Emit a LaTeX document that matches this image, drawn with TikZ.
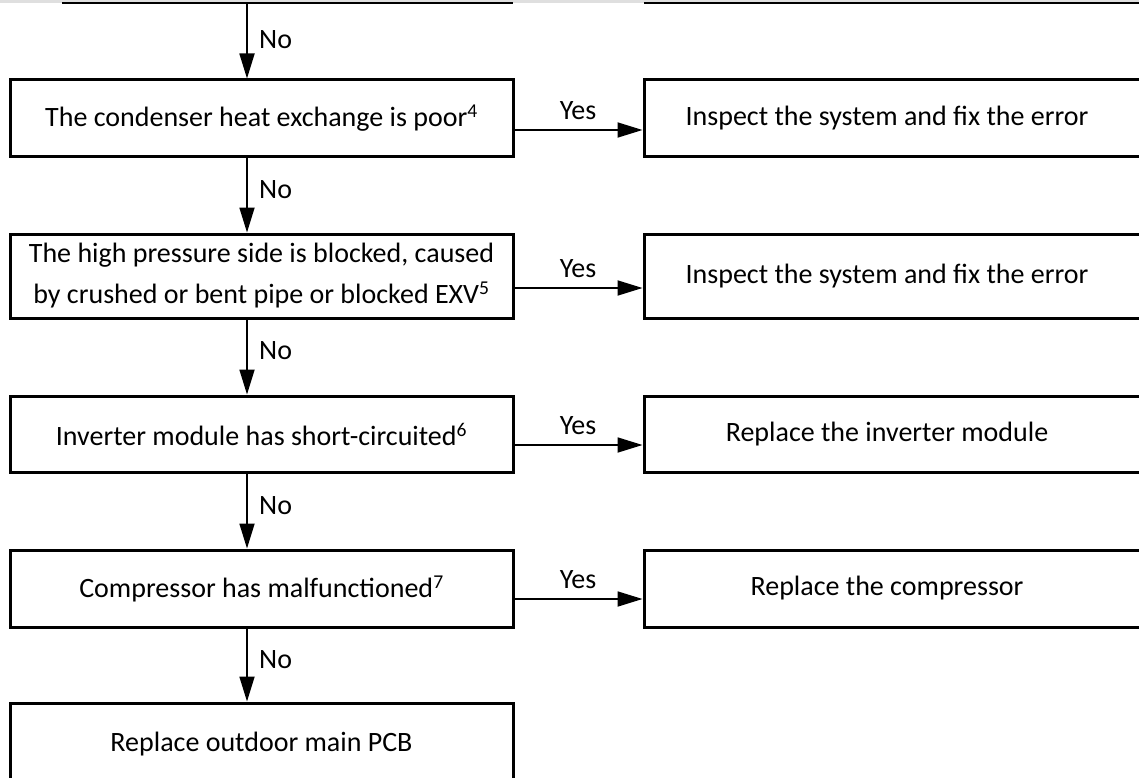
\documentclass[tikz,border=0pt]{standalone}
\usepackage{fontspec}
\setmainfont{Carlito}
\usetikzlibrary{arrows.meta}
\tikzset{
  box/.style={draw, line width=3pt, inner sep=0pt, minimum width=503pt, align=center,
    font=\fontsize{28}{41}\selectfont},
  arr/.style={line width=1.8pt, -{Triangle[length=25pt,width=15pt]}},
  lbl/.style={inner sep=0pt, font=\fontsize{28}{33}\selectfont},
}
\newcommand{\myLeftShift}{\hspace*{-17pt}}
\begin{document}
\begin{tikzpicture}[x=1pt,y=-1pt]
\useasboundingbox (0,0) rectangle (1139,778);
\clip (0,0) rectangle (1139,778);
% top strip
\fill[gray!25] (0,0) rectangle (1139,3.5);
\coordinate (tl1) at (62,3);
\coordinate (tl2) at (513,3);
\coordinate (tr1) at (644,3);
\coordinate (tr2) at (1139,3);
\draw[line width=1.6pt] (tl1) -- (tl2);
\draw[line width=1.6pt] (tr1) -- (tr2);
\coordinate (top) at (247,3);
\coordinate (ax) at (247,0);

% left boxes
\node[box, minimum height=77pt] (b1) at (261.5,118.5) {The condenser heat exchange is poor\textsuperscript{4}};
\node[box, minimum height=84pt] (b2) at (261.5,276) {The high pressure side is blocked, caused\\by crushed or bent pipe or blocked EXV\textsuperscript{5}};
\node[box, minimum height=76pt] (b3) at (261.5,434) {Inverter module has short-circuited\textsuperscript{6}};
\node[box, minimum height=77pt] (b4) at (261.5,588.5) {Compressor has malfunctioned\textsuperscript{7}};
\node[box, minimum height=82pt] (b5) at (261.5,744) {Replace outdoor main PCB};

% right boxes
\node[box, minimum height=77pt] (r1) at (895.5,118.5) {\myLeftShift Inspect the system and fix the error};
\node[box, minimum height=84pt] (r2) at (895.5,276) {\myLeftShift Inspect the system and fix the error};
\node[box, minimum height=76pt] (r3) at (895.5,434) {\myLeftShift Replace the inverter module};
\node[box, minimum height=77pt] (r4) at (895.5,588.5) {\myLeftShift Replace the compressor};

% No arrows
\draw[arr] (top) -- (b1.north -| ax);
\draw[arr] (b1.south -| ax) -- (b2.north -| ax);
\draw[arr] (b2.south -| ax) -- (b3.north -| ax);
\draw[arr] (b3.south -| ax) -- (b4.north -| ax);
\draw[arr] (b4.south -| ax) -- (b5.north -| ax);
\node[lbl, anchor=west] (n0) at (259,40) {No};
\node[lbl, anchor=west] (n1) at (259,190) {No};
\node[lbl, anchor=west] (n2) at (259,351) {No};
\node[lbl, anchor=west] (n3) at (259,506) {No};
\node[lbl, anchor=west] (n4) at (259,660) {No};

% Yes arrows
\coordinate (y1) at (0,130);
\coordinate (y2) at (0,288);
\coordinate (y3) at (0,445);
\coordinate (y4) at (0,599);
\draw[arr] (b1.east |- y1) -- (r1.west |- y1);
\draw[arr] (b2.east |- y2) -- (r2.west |- y2);
\draw[arr] (b3.east |- y3) -- (r3.west |- y3);
\draw[arr] (b4.east |- y4) -- (r4.west |- y4);
\node[lbl] (s1) at (578,111) {Yes};
\node[lbl] (s2) at (578,269) {Yes};
\node[lbl] (s3) at (578,426) {Yes};
\node[lbl] (s4) at (578,580) {Yes};
\end{tikzpicture}
\end{document}
